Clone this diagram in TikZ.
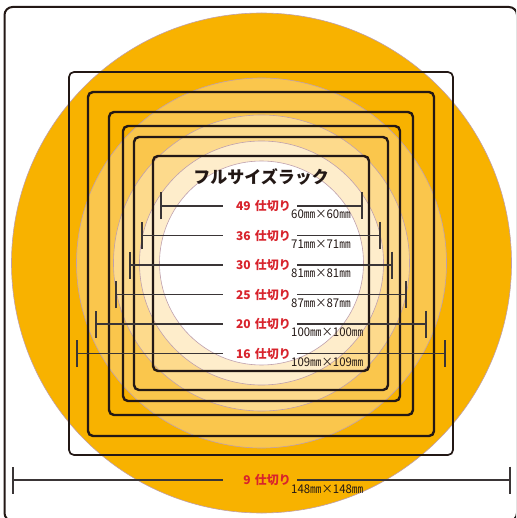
\documentclass[tikz,border=0pt]{standalone}
\usepackage{fontspec}
\usepackage{tikz}
\usetikzlibrary{arrows.meta}
\newfontfamily\jpfont{Noto Sans CJK JP}
\newfontfamily\jpnarrow{Noto Sans CJK JP}[FakeStretch=0.95]
\definecolor{ink}{HTML}{231815}
\definecolor{dimgray}{HTML}{3A3536}
\definecolor{redlab}{HTML}{D8232C}
\definecolor{ring}{HTML}{BFA0AC}
\definecolor{orA}{HTML}{F8B200}
\definecolor{orB}{HTML}{FAC64C}
\definecolor{orC}{HTML}{FDDA8C}
\definecolor{orD}{HTML}{FEEDCB}

\begin{document}
\begin{tikzpicture}[x=1pt, y=-1pt,
    disc/.style={draw=ring, line width=0.6pt},
    rack/.style={draw=ink, line width=2.4pt, rounded corners=5pt},
    dimline/.style={draw=dimgray, line width=1.3pt, {Bar[width=27pt, line width=1.8pt]}-},
    count/.style={anchor=east, inner xsep=6pt, inner ysep=0pt, text width=62pt, align=right,
        text=redlab, font=\jpfont\bfseries\fontsize{12}{12}\selectfont},
    size/.style={anchor=base west, inner sep=0pt, text=ink, font=\jpnarrow\fontsize{12}{12}\selectfont}]
            \clip (0,0) rectangle (516,518);

            % outer frame
            \draw[draw=ink, line width=2pt, rounded corners=8pt] (4.5,7) rectangle (517,521);

            % circles
            \fill[orA, disc] (261.5,263) circle (250);
            \fill[orB, disc] (261.5,263) circle (185);
            \fill[orC, disc] (261.5,263) circle (148);
            \fill[orD, disc] (261.5,263) circle (122);
            \fill[white, disc] (261.5,263) circle (102);

            % racks
            \draw[rack, line width=1.7pt] (69,72) rectangle (453,455);
            \draw[rack] (88,92) rectangle (434,436);
            \draw[rack] (109,112) rectangle (413,415);
            \draw[rack] (123,126) rectangle (400,401);
            \draw[rack] (134,137) rectangle (388,390);
            \draw[rack] (153,156) rectangle (369,371);

            % title
            \node[font=\jpfont\bfseries\fontsize{17}{17}\selectfont, text=ink] (title) at (261,177) {フルサイズラック};

            % 49
            \coordinate (l49) at (160,206);
            \coordinate (r49) at (363,206);
            \node[count] (c49) at (297,206) {49 仕切り};
            \node[size] (s49) at (291,218.5) {60㎜×60㎜};
            \draw[dimline] (l49) -- (c49.west);
            \draw[dimline] (r49) -- (c49.east);

            % 36
            \coordinate (l36) at (141,235.5);
            \coordinate (r36) at (381,235.5);
            \node[count] (c36) at (297,235.5) {36 仕切り};
            \node[size] (s36) at (291,248) {71㎜×71㎜};
            \draw[dimline] (l36) -- (c36.west);
            \draw[dimline] (r36) -- (c36.east);

            % 30
            \coordinate (l30) at (129,265);
            \coordinate (r30) at (393,265);
            \node[count] (c30) at (297,265) {30 仕切り};
            \node[size] (s30) at (291,277.5) {81㎜×81㎜};
            \draw[dimline] (l30) -- (c30.west);
            \draw[dimline] (r30) -- (c30.east);

            % 25
            \coordinate (l25) at (115,294.5);
            \coordinate (r25) at (407,294.5);
            \node[count] (c25) at (297,294.5) {25 仕切り};
            \node[size] (s25) at (291,307) {87㎜×87㎜};
            \draw[dimline] (l25) -- (c25.west);
            \draw[dimline] (r25) -- (c25.east);

            % 20
            \coordinate (l20) at (95,324);
            \coordinate (r20) at (427,324);
            \node[count] (c20) at (297,324) {20 仕切り};
            \node[size] (s20) at (291,336.5) {100㎜×100㎜};
            \draw[dimline] (l20) -- (c20.west);
            \draw[dimline] (r20) -- (c20.east);

            % 16
            \coordinate (l16) at (76,353.5);
            \coordinate (r16) at (446,353.5);
            \node[count] (c16) at (297,353.5) {16 仕切り};
            \node[size] (s16) at (291,366) {109㎜×109㎜};
            \draw[dimline] (l16) -- (c16.west);
            \draw[dimline] (r16) -- (c16.east);

            % 9
            \coordinate (l9) at (12,480);
            \coordinate (r9) at (511,480);
            \node[count] (c9) at (297,480) {9 仕切り};
            \node[size] (s9) at (291,493) {148㎜×148㎜};
            \draw[dimline] (l9) -- (c9.west);
            \draw[dimline] (r9) -- (c9.east);
        \end{tikzpicture}
\end{document}
